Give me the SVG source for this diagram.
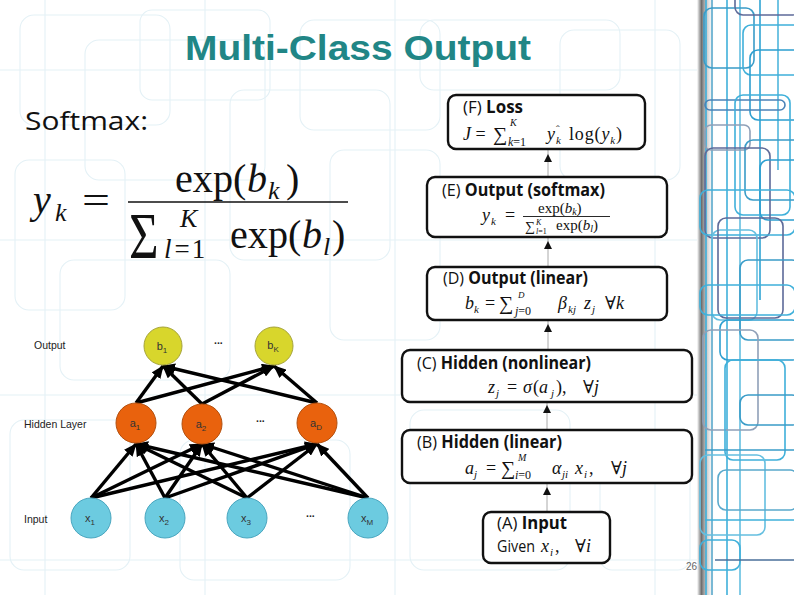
<svg xmlns="http://www.w3.org/2000/svg" width="794" height="595" viewBox="0 0 794 595">
<defs>
<style>
.bg{fill:none;stroke:#e4f1f6;stroke-width:1.1}
.deco{fill:none;stroke-width:1.6}
.box{fill:#ffffff;stroke:#111;stroke-width:2.4}
.hdr{font-family:"Open Sans","Noto Sans",sans-serif;font-size:17px;fill:#111}
.m{font-family:"Liberation Serif","DejaVu Serif",serif;fill:#111}
.i{font-style:italic}
.lbl{font-family:"Liberation Sans",Arial,sans-serif;font-size:10.5px;fill:#222}
.nl{font-family:"Liberation Sans",Arial,sans-serif;font-size:11px;fill:#333;text-anchor:middle}
.edge{stroke:#000;stroke-width:3.4;fill:none;marker-end:url(#ah)}
.flow{stroke:#aaa;stroke-width:1;fill:none}
.tri{fill:#111}
.nb{fill:#d8d62c;stroke:#a5a33a;stroke-width:1}
.na{fill:#e9620d;stroke:#b3500f;stroke-width:1}
.nx{fill:#6ccbe0;stroke:#4aa6bf;stroke-width:1}
</style>
<marker id="ah" markerUnits="userSpaceOnUse" markerWidth="13" markerHeight="11" refX="12" refY="5.5" orient="auto">
<path d="M0,0 L13,5.5 L0,11 z" fill="#000"/>
</marker>
<linearGradient id="shade" x1="0" y1="0" x2="1" y2="0">
<stop offset="0" stop-color="#ffffff"/>
<stop offset="0.25" stop-color="#6f6f6f"/>
<stop offset="1" stop-color="#ffffff" stop-opacity="0"/>
</linearGradient>
</defs>

<rect x="0" y="0" width="794" height="595" fill="#ffffff"/>

<g id="background">
<rect class="bg" x="20" y="15" width="150" height="110" rx="14"/>
<rect class="bg" x="85" y="40" width="180" height="140" rx="14"/>
<rect class="bg" x="140" y="10" width="130" height="90" rx="12"/>
<rect class="bg" x="15" y="160" width="110" height="150" rx="14"/>
<rect class="bg" x="60" y="260" width="170" height="120" rx="14"/>
<rect class="bg" x="230" y="90" width="160" height="170" rx="14"/>
<rect class="bg" x="300" y="20" width="140" height="110" rx="14"/>
<rect class="bg" x="330" y="150" width="110" height="190" rx="14"/>
<rect class="bg" x="10" y="420" width="120" height="150" rx="14"/>
<rect class="bg" x="180" y="440" width="170" height="140" rx="14"/>
<rect class="bg" x="420" y="20" width="200" height="70" rx="14"/>
<rect class="bg" x="560" y="30" width="120" height="150" rx="14"/>
<rect class="bg" x="410" y="410" width="160" height="160" rx="14"/>
<rect class="bg" x="600" y="460" width="90" height="110" rx="12"/>
<line class="bg" x1="0" y1="70" x2="700" y2="70"/>
<line class="bg" x1="0" y1="240" x2="700" y2="240"/>
<line class="bg" x1="0" y1="395" x2="700" y2="395"/>
<line class="bg" x1="0" y1="560" x2="700" y2="560"/>
<line class="bg" x1="45" y1="0" x2="45" y2="595"/>
<line class="bg" x1="205" y1="0" x2="205" y2="595"/>
<line class="bg" x1="395" y1="0" x2="395" y2="595"/>
<line class="bg" x1="655" y1="0" x2="655" y2="595"/>
</g>

<g id="side-decoration">
<rect x="697" y="0" width="18" height="595" fill="url(#shade)"/>
<path class="deco" stroke="#3fb0da" d="M706,0 V595"/>
<path class="deco" stroke="#5aa9cc" d="M712,0 V595"/>
<path class="deco" stroke="#3fb0da" d="M727,0 V595"/>
<path class="deco" stroke="#64bfe0" d="M740,0 V595"/>
<path class="deco" stroke="#2fa4d4" d="M760,0 V300"/>
<path class="deco" stroke="#4fb6dc" d="M778,0 V170"/>
<rect class="deco" stroke="#3a9cc8" x="704" y="8" width="50" height="60" rx="8"/>
<rect class="deco" stroke="#5d6a99" x="735" y="-10" width="65" height="25" rx="8"/>
<rect class="deco" stroke="#3fb0da" x="743" y="25" width="60" height="50" rx="8"/>
<rect class="deco" stroke="#2d9fd0" x="750" y="50" width="60" height="70" rx="8"/>
<rect class="deco" stroke="#4a83b8" x="705" y="100" width="80" height="10" rx="5"/>
<rect class="deco" stroke="#3fb0da" x="735" y="95" width="55" height="120" rx="8"/>
<rect class="deco" stroke="#8fa0b8" x="705" y="125" width="45" height="25" rx="6"/>
<rect class="deco" stroke="#3a9cc8" x="745" y="140" width="60" height="60" rx="8"/>
<rect class="deco" stroke="#5d6a99" x="705" y="148" width="65" height="90" rx="8"/>
<rect class="deco" stroke="#2d9fd0" x="760" y="160" width="45" height="60" rx="8"/>
<rect class="deco" stroke="#3fb0da" x="700" y="190" width="95" height="45" rx="8"/>
<rect class="deco" stroke="#64bfe0" x="712" y="230" width="45" height="90" rx="8"/>
<rect class="deco" stroke="#5d6a99" x="718" y="218" width="65" height="100" rx="8"/>
<rect class="deco" stroke="#3a9cc8" x="740" y="260" width="60" height="80" rx="8"/>
<rect class="deco" stroke="#3fb0da" x="700" y="285" width="95" height="30" rx="8"/>
<rect class="deco" stroke="#2d9fd0" x="720" y="320" width="80" height="40" rx="8"/>
<rect class="deco" stroke="#8fa0b8" x="703" y="330" width="55" height="100" rx="8"/>
<rect class="deco" stroke="#3fb0da" x="725" y="360" width="60" height="100" rx="8"/>
<rect class="deco" stroke="#3a9cc8" x="740" y="395" width="60" height="30" rx="8"/>
<rect class="deco" stroke="#64bfe0" x="700" y="455" width="65" height="80" rx="8"/>
<rect class="deco" stroke="#5aa9cc" x="718" y="470" width="80" height="40" rx="8"/>
<rect class="deco" stroke="#3fb0da" x="700" y="540" width="40" height="30" rx="8"/>
<path class="deco" stroke="#4a6f9a" d="M715,560 H794"/>
<path class="deco" stroke="#3fb0da" d="M705,520 H794"/>
<path class="deco" stroke="#3a9cc8" d="M705,450 H794"/>
</g>

<g id="title">
<text x="358" y="60" text-anchor="middle" font-family="Liberation Sans,Arial,sans-serif" font-weight="bold" font-size="35" fill="#218686" textLength="346" lengthAdjust="spacingAndGlyphs">Multi-Class Output</text>
</g>

<g id="softmax-formula">
<text x="25" y="130" font-family="Open Sans,Noto Sans,sans-serif" font-size="26" fill="#111" textLength="123" lengthAdjust="spacingAndGlyphs">Softmax:</text>
<text class="m i" x="33" y="213" font-size="40">y</text>
<text class="m i" x="55" y="221" font-size="26">k</text>
<text class="m" x="82" y="214" font-size="40" textLength="28" lengthAdjust="spacingAndGlyphs">=</text>
<text class="m" x="175" y="192" font-size="40" textLength="58" lengthAdjust="spacingAndGlyphs">exp</text>
<text class="m" x="233" y="192" font-size="40">(</text>
<text class="m i" x="247" y="192" font-size="40">b</text>
<text class="m i" x="268" y="199" font-size="26">k</text>
<text class="m" x="286" y="192" font-size="40">)</text>
<line x1="128" y1="202" x2="348" y2="202" stroke="#111" stroke-width="1.6"/>
<text class="m" transform="translate(129,258) scale(0.77,1)" font-size="66">Σ</text>
<text class="m i" x="180" y="227" font-size="26">K</text>
<text class="m" x="164" y="258" font-size="27"><tspan class="i">l</tspan><tspan dx="3">=</tspan><tspan dx="2">1</tspan></text>
<text class="m" x="230" y="248" font-size="40" textLength="58" lengthAdjust="spacingAndGlyphs">exp</text>
<text class="m" x="288" y="248" font-size="40">(</text>
<text class="m i" x="302" y="248" font-size="40">b</text>
<text class="m i" x="323" y="255" font-size="26">l</text>
<text class="m" x="332" y="248" font-size="40">)</text>
</g>

<g id="flow-connectors">
<line class="flow" x1="548" y1="149" x2="548" y2="177"/>
<path class="tri" d="M544,162 L548,154 L552,162 z"/>
<line class="flow" x1="548" y1="237" x2="548" y2="267"/>
<path class="tri" d="M544,249 L548,241 L552,249 z"/>
<line class="flow" x1="548" y1="320" x2="548" y2="350"/>
<path class="tri" d="M544,332 L548,324 L552,332 z"/>
<line class="flow" x1="547" y1="402" x2="547" y2="430"/>
<path class="tri" d="M543,413 L547,405 L551,413 z"/>
<line class="flow" x1="547" y1="483" x2="547" y2="512"/>
<path class="tri" d="M543,495 L547,487 L551,495 z"/>
</g>

<g id="box-F">
<rect class="box" x="448" y="95" width="197" height="54" rx="8"/>
<text class="hdr" x="463" y="113" textLength="60" lengthAdjust="spacingAndGlyphs">(F) <tspan font-weight="bold">Loss</tspan></text>
<text class="m" x="463" y="140" font-size="18"><tspan class="i">J</tspan> =</text>
<text class="m" x="493" y="141" font-size="20">∑</text>
<text class="m i" x="510" y="126" font-size="10">K</text>
<text class="m" x="508" y="146" font-size="12"><tspan class="i">k</tspan>=1</text>
<text class="m i" font-size="18"><tspan x="547" y="140">y</tspan><tspan x="556" y="144" font-size="11">k</tspan><tspan x="556" y="133" font-size="11" font-style="normal">ˆ</tspan></text>
<text class="m" x="569" y="140" font-size="18" textLength="53" lengthAdjust="spacing">log(<tspan class="i">y</tspan><tspan class="i" font-size="11" dy="4">k</tspan><tspan dy="-4">)</tspan></text>
</g>

<g id="box-E">
<rect class="box" x="427" y="177" width="240" height="60" rx="8"/>
<text class="hdr" x="442" y="196" textLength="163" lengthAdjust="spacingAndGlyphs">(E) <tspan font-weight="bold">Output (softmax)</tspan></text>
<text class="m i" x="482" y="221" font-size="18">y</text>
<text class="m i" x="491" y="225" font-size="11">k</text>
<text class="m" x="505" y="221" font-size="18">=</text>
<text class="m" x="538" y="213" font-size="15">exp(<tspan class="i">b</tspan><tspan class="i" font-size="10" dy="2">k</tspan><tspan dy="-2">)</tspan></text>
<line x1="523" y1="216.5" x2="610" y2="216.5" stroke="#111" stroke-width="0.9"/>
<text class="m" x="525" y="231" font-size="14">∑</text>
<text class="m i" x="536" y="225" font-size="8">K</text>
<text class="m" x="536" y="234" font-size="8"><tspan class="i">l</tspan>=1</text>
<text class="m" x="556" y="230" font-size="15">exp(<tspan class="i">b</tspan><tspan class="i" font-size="10" dy="2">l</tspan><tspan dy="-2">)</tspan></text>
</g>

<g id="box-D">
<rect class="box" x="427" y="267" width="240" height="53" rx="8"/>
<text class="hdr" x="443" y="284" textLength="145" lengthAdjust="spacingAndGlyphs">(D) <tspan font-weight="bold">Output (linear)</tspan></text>
<text class="m i" x="465" y="309" font-size="18">b</text>
<text class="m i" x="474" y="313" font-size="11">k</text>
<text class="m" x="485" y="309" font-size="18">=</text>
<text class="m" x="499" y="310" font-size="20">∑</text>
<text class="m i" x="518" y="298" font-size="9">D</text>
<text class="m" x="515" y="315" font-size="12"><tspan class="i">j</tspan>=0</text>
<text class="m i" x="558" y="309" font-size="18">β</text>
<text class="m i" x="568" y="313" font-size="11">kj</text>
<text class="m i" x="584" y="309" font-size="18">z</text>
<text class="m i" x="592" y="313" font-size="11">j</text>
<text class="m" x="605" y="309" font-size="18">∀<tspan class="i">k</tspan></text>
</g>

<g id="box-C">
<rect class="box" x="402" y="350" width="290" height="52" rx="8"/>
<text class="hdr" x="417" y="369" textLength="174" lengthAdjust="spacingAndGlyphs">(C) <tspan font-weight="bold">Hidden (nonlinear)</tspan></text>
<text class="m i" x="488" y="393" font-size="18">z</text>
<text class="m i" x="496" y="397" font-size="11">j</text>
<text class="m" x="507" y="393" font-size="18">=</text>
<text class="m i" x="523" y="393" font-size="18">σ</text>
<text class="m" x="533" y="393" font-size="18">(<tspan class="i">a</tspan></text>
<text class="m i" x="551" y="397" font-size="11">j</text>
<text class="m" x="556" y="393" font-size="18">),</text>
<text class="m" x="583" y="393" font-size="18">∀<tspan class="i">j</tspan></text>
</g>

<g id="box-B">
<rect class="box" x="402" y="430" width="290" height="53" rx="8"/>
<text class="hdr" x="417" y="448" textLength="145" lengthAdjust="spacingAndGlyphs">(B) <tspan font-weight="bold">Hidden (linear)</tspan></text>
<text class="m i" x="465" y="474" font-size="18">a</text>
<text class="m i" x="474" y="478" font-size="11">j</text>
<text class="m" x="486" y="474" font-size="18">=</text>
<text class="m" x="501" y="475" font-size="20">∑</text>
<text class="m i" x="518" y="461" font-size="10">M</text>
<text class="m" x="515" y="479" font-size="12"><tspan class="i">i</tspan>=0</text>
<text class="m i" x="552" y="474" font-size="18">α</text>
<text class="m i" x="562" y="478" font-size="11">ji</text>
<text class="m i" x="575" y="474" font-size="18">x</text>
<text class="m i" x="584" y="478" font-size="11">i</text>
<text class="m" x="589" y="474" font-size="18">,</text>
<text class="m" x="611" y="474" font-size="18">∀<tspan class="i">j</tspan></text>
</g>

<g id="box-A">
<rect class="box" x="483" y="512" width="127" height="51" rx="8"/>
<text class="hdr" x="497" y="529" textLength="70" lengthAdjust="spacingAndGlyphs">(A) <tspan font-weight="bold">Input</tspan></text>
<text class="hdr" x="497" y="552" textLength="38" lengthAdjust="spacingAndGlyphs">Given</text>
<text class="m i" x="541" y="552" font-size="18">x</text>
<text class="m i" x="550" y="556" font-size="11">i</text>
<text class="m" x="555" y="552" font-size="18">,</text>
<text class="m" x="575" y="552" font-size="18">∀<tspan class="i">i</tspan></text>
</g>

<g id="layer-labels">
<text class="lbl" x="34" y="349">Output</text>
<text class="lbl" x="24" y="428">Hidden Layer</text>
<text class="lbl" x="24" y="523">Input</text>
<text class="lbl" x="214" y="344" font-weight="bold">...</text>
<text class="lbl" x="256" y="422" font-weight="bold">...</text>
<text class="lbl" x="306" y="517" font-weight="bold">...</text>
</g>

<g id="network-connectors">
<line class="edge" x1="136" y1="403" x2="163" y2="366"/>
<line class="edge" x1="136" y1="403" x2="274" y2="366"/>
<line class="edge" x1="202" y1="404" x2="163" y2="366"/>
<line class="edge" x1="202" y1="404" x2="274" y2="366"/>
<line class="edge" x1="317" y1="403" x2="163" y2="366"/>
<line class="edge" x1="317" y1="403" x2="274" y2="366"/>
<line class="edge" x1="91" y1="498" x2="136" y2="444"/>
<line class="edge" x1="91" y1="498" x2="202" y2="444"/>
<line class="edge" x1="91" y1="498" x2="317" y2="444"/>
<line class="edge" x1="165" y1="498" x2="136" y2="444"/>
<line class="edge" x1="165" y1="498" x2="202" y2="444"/>
<line class="edge" x1="165" y1="498" x2="317" y2="444"/>
<line class="edge" x1="247" y1="498" x2="136" y2="444"/>
<line class="edge" x1="247" y1="498" x2="202" y2="444"/>
<line class="edge" x1="247" y1="498" x2="317" y2="444"/>
<line class="edge" x1="368" y1="498" x2="136" y2="444"/>
<line class="edge" x1="368" y1="498" x2="202" y2="444"/>
<line class="edge" x1="368" y1="498" x2="317" y2="444"/>
</g>

<g id="node-b1"><circle class="nb" cx="163" cy="346" r="19"/><text class="nl" x="162" y="350">b<tspan font-size="8" dy="3">1</tspan></text></g>
<g id="node-bK"><circle class="nb" cx="274" cy="346" r="19"/><text class="nl" x="273" y="349">b<tspan font-size="8" dy="3">K</tspan></text></g>
<g id="node-a1"><circle class="na" cx="136" cy="423" r="20"/><text class="nl" x="135" y="427">a<tspan font-size="8" dy="3">1</tspan></text></g>
<g id="node-a2"><circle class="na" cx="202" cy="424" r="20"/><text class="nl" x="201" y="428">a<tspan font-size="8" dy="3">2</tspan></text></g>
<g id="node-aD"><circle class="na" cx="317" cy="423" r="20"/><text class="nl" x="316" y="427">a<tspan font-size="8" dy="3">D</tspan></text></g>
<g id="node-x1"><circle class="nx" cx="91" cy="518" r="20"/><text class="nl" x="90" y="522">x<tspan font-size="8" dy="3">1</tspan></text></g>
<g id="node-x2"><circle class="nx" cx="165" cy="518" r="20"/><text class="nl" x="164" y="522">x<tspan font-size="8" dy="3">2</tspan></text></g>
<g id="node-x3"><circle class="nx" cx="247" cy="518" r="20"/><text class="nl" x="246" y="522">x<tspan font-size="8" dy="3">3</tspan></text></g>
<g id="node-xM"><circle class="nx" cx="368" cy="518" r="20"/><text class="nl" x="367" y="522">x<tspan font-size="8" dy="3">M</tspan></text></g>

<g id="page-number">
<text x="686" y="570" font-family="Liberation Sans,Arial,sans-serif" font-size="10" fill="#666">26</text>
</g>
</svg>
